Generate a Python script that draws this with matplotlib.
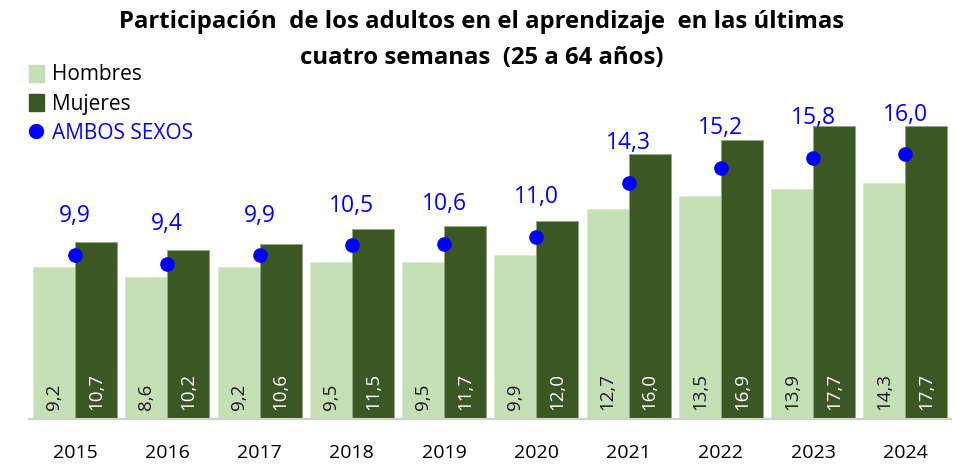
import numpy as np
import matplotlib.pyplot as plt
from matplotlib.lines import Line2D
from matplotlib.patches import Patch

years = ['2015', '2016', '2017', '2018', '2019', '2020', '2021', '2022', '2023', '2024']
hombres = [9.2, 8.6, 9.2, 9.5, 9.5, 9.9, 12.7, 13.5, 13.9, 14.3]
mujeres = [10.7, 10.2, 10.6, 11.5, 11.7, 12.0, 16.0, 16.9, 17.7, 17.7]
ambos = [9.9, 9.4, 9.9, 10.5, 10.6, 11.0, 14.3, 15.2, 15.8, 16.0]

c_hom = '#c5e0b4'
c_muj = '#3a5724'
c_amb = '#0000ff'

plt.rcParams['font.family'] = ['Open Sans', 'DejaVu Sans']

def fmt(v):
    return f'{v:.1f}'.replace('.', ',')

fig = plt.figure(figsize=(9.64, 4.67), dpi=100)
ax = fig.add_axes([0.030, 0.103, 0.957, 0.683])

x = np.arange(len(years))
w = 0.455
ax.bar(x - w / 2, hombres, w, color=c_hom, edgecolor='#d9ead0', linewidth=0.6)
ax.bar(x + w / 2, mujeres, w, color=c_muj, edgecolor='#8fa883', linewidth=0.6)
ax.plot(x, ambos, 'o', color=c_amb, markersize=9.5, linestyle='none', zorder=3)

for i in range(len(years)):
    ax.text(x[i] - w / 2, 0.55, fmt(hombres[i]), rotation=90, ha='center', va='bottom',
            fontsize=13.5, color='#1a1a1a')
    ax.text(x[i] + w / 2, 0.55, fmt(mujeres[i]), rotation=90, ha='center', va='bottom',
            fontsize=13.5, color='white')
    ax.annotate(fmt(ambos[i]), (x[i], ambos[i]), xytext=(0, 20), textcoords='offset points',
                ha='center', va='bottom', fontsize=16.5, color=c_amb)

ax.set_xlim(-0.5, len(years) - 0.5)
ax.set_ylim(0, 19.3)
ax.set_xticks(x)
ax.set_xticklabels(years, fontsize=14)
ax.tick_params(axis='x', length=0, pad=18)
ax.set_yticks([])
for s in ['top', 'right', 'left']:
    ax.spines[s].set_visible(False)
ax.spines['bottom'].set_color('#d0d0d0')
ax.spines['bottom'].set_linewidth(1.5)

fig.text(0.5, 0.915, 'Participación  de los adultos en el aprendizaje  en las últimas\ncuatro semanas  (25 a 64 años)',
         ha='center', va='center', fontsize=17.2, fontweight='bold', linespacing=1.65)

handles = [Patch(color=c_hom), Patch(color=c_muj),
           Line2D([], [], marker='o', color=c_amb, linestyle='none', markersize=10)]
leg = fig.legend(handles, ['Hombres', 'Mujeres', 'AMBOS SEXOS'], loc='upper left',
                 bbox_to_anchor=(0.03, 0.862), frameon=False, fontsize=15,
                 handlelength=0.7, handleheight=0.9, handletextpad=0.4, labelspacing=0.4,
                 borderaxespad=0, borderpad=0)
leg.get_texts()[2].set_color(c_amb)

fig.savefig('out.png', dpi=100)
